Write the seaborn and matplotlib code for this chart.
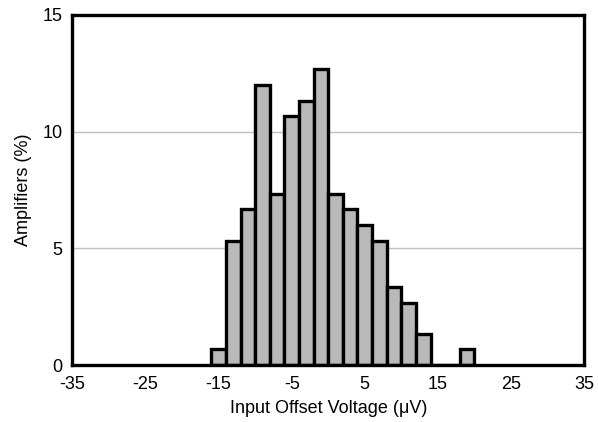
import matplotlib
matplotlib.use("Agg")
import matplotlib.pyplot as plt
import seaborn as sns
import numpy as np

bin_centers = [-15, -13, -11, -9, -7, -5, -3, -1, 1, 3, 5, 7, 9, 11, 13, 15, 17, 19]
percent = [0.67, 5.33, 6.67, 12.0, 7.33, 10.67, 11.33, 12.67, 7.33, 6.67, 6.0,
           5.33, 3.33, 2.67, 1.33, 0.0, 0.0, 0.67]
bin_edges = [-16, -14, -12, -10, -8, -6, -4, -2, 0, 2, 4, 6, 8, 10, 12, 14, 16, 18, 20]
x_ticks = [-35, -25, -15, -5, 5, 15, 25, 35]
y_ticks = [0, 5, 10, 15]

sns.set_theme(style="white")
plt.rcParams['font.family'] = ['Liberation Sans', 'DejaVu Sans']

fig = plt.figure(figsize=(5.98, 4.22), dpi=100)
ax = fig.add_axes([0.1212, 0.135, 0.8554, 0.8295])

sns.histplot(x=bin_centers, weights=percent, bins=bin_edges, ax=ax,
             color="#b9b9b9", edgecolor="black", linewidth=2.4, alpha=1.0)

ax.set_xlim(-35, 35)
ax.set_ylim(0, 15)
ax.set_xticks(x_ticks)
ax.set_xticklabels([str(v) for v in x_ticks])
ax.set_yticks(y_ticks)
ax.set_yticklabels([str(v) for v in y_ticks])
ax.yaxis.grid(True, color="#c0c0c0", linewidth=1.0)
ax.xaxis.grid(False)
ax.set_axisbelow(True)
for s in ax.spines.values():
    s.set_color("black")
    s.set_linewidth(2.4)
ax.tick_params(axis="y", length=0, labelsize=13, colors="black", pad=7)
ax.tick_params(axis="x", length=0, labelsize=13, colors="black", pad=8)
ax.set_xlabel("Input Offset Voltage (μV)", fontsize=13, color="black", labelpad=5)
ax.set_ylabel("Amplifiers (%)", fontsize=13, color="black", labelpad=8)

fig.savefig("out.png", dpi=100)
